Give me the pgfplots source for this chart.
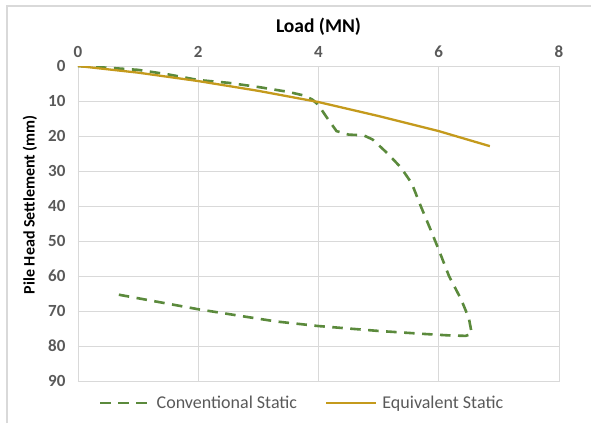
\documentclass[border=0pt]{standalone}
\usepackage{pgfplots}
\pgfplotsset{compat=1.18}
\usepackage{fontspec}
\setmainfont{Carlito}
\definecolor{convgreen}{HTML}{5B8A3C}
\definecolor{equivgold}{HTML}{C49A1C}
\definecolor{gridgray}{HTML}{D9D9D9}
\definecolor{labgray}{HTML}{595959}

\begin{document}
\begin{tikzpicture}
% page frame (591 x 423 px as pt, axis origin at px (78,381))
\path[use as bounding box] (-78pt,-42pt) rectangle (513pt,381pt);
\draw[gridgray, line width=1.2pt] (-71pt,-42pt) -- (-71pt,375pt) -- (513pt,375pt);
\begin{axis}[
    at={(0pt,0pt)}, anchor=south west,
    scale only axis,
    width=481pt, height=315pt,
    xmin=0, xmax=8, ymin=0, ymax=90,
    y dir=reverse,
    xtick={0,2,...,8},
    ytick={0,10,...,90},
    xticklabel pos=top,
    major tick length=0pt,
    grid=major,
    grid style={gridgray, line width=0.8pt},
    axis line style={gridgray, line width=0.8pt},
    tick label style={font=\fontsize{17}{19}\selectfont\bfseries, text=labgray},
    /pgf/number format/assume math mode=true,
    xticklabel style={yshift=5pt},
    yticklabel style={xshift=-9pt},
    xlabel={Load (MN)},
    ylabel={Pile Head Settlement (mm)},
    xlabel style={font=\fontsize{19.5}{22}\selectfont\bfseries, text=black, yshift=3pt},
    ylabel style={font=\fontsize{16}{18}\selectfont\bfseries, text=black,
        at={(axis description cs:-0.1,0.56)}, anchor=center},
    legend columns=2,
    legend style={at={(0.466,-0.07)}, anchor=center, draw=none, fill=none,
        font=\fontsize{18}{20}\selectfont, text=labgray,
        /tikz/every odd column/.append style={column sep=3pt},
        /tikz/every even column/.append style={column sep=26pt}},
    legend image code/.code={\draw[#1] (0pt,0pt) -- (50pt,0pt);},
]
\addplot[convgreen, line width=2.6pt, dash pattern=on 10.5pt off 7.5pt] coordinates {
    (0,0) (0.5,0.5) (1,1.1) (1.5,2.4) (2,4.0) (2.5,4.8) (3,6.0) (3.5,7.4) (3.75,8.4)
    (3.9,9.6) (4.0,11.2) (4.15,15) (4.3,18.6) (4.5,19.6) (4.75,19.8) (4.9,21)
    (5.15,25) (5.37,29) (5.55,33.5) (5.7,40) (5.87,47) (6.0,52.5) (6.17,60)
    (6.37,66.6) (6.5,72) (6.55,76.5) (6.45,77.1) (6.2,77) (5.8,76.6) (5.0,75.7)
    (4.0,74.3) (3.3,73) (2.7,71.4) (2.0,69.5) (1.3,67.3) (0.57,65)
};
\addplot[equivgold, line width=2.3pt] coordinates {
    (0,0) (1,1.9) (2,4.3) (3,7.1) (4,10.3) (5,14.3) (6,18.6) (6.85,22.9)
};
\legend{Conventional Static, Equivalent Static}
\end{axis}
\end{tikzpicture}
\end{document}
